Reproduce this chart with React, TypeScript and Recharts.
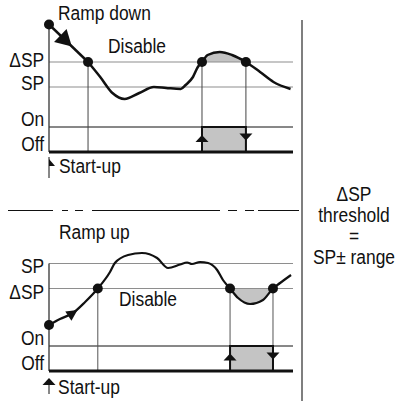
import { ComposedChart, Line, Area, XAxis, YAxis, ReferenceLine, ReferenceArea, ReferenceDot } from 'recharts';

const FONT = "'Liberation Sans', Arial, sans-serif";
const INK = '#111';
const GRID = '#8e8e8e';
const SHADE = '#c4c4c4';
const FS = 20;
const SQUEEZE = 0.87; // the original lettering is a condensed face

// levels (arbitrary process units, output: Off = 0 / On = 10)
const OFF = 0;
const ON = 10;
const topSP = 26;
const topDSP = 36;
const botSP = 43;
const botDSP = 33;

// switching instants
const topEnable = 16;
const topOnT = 62.7;
const topOffT = 80.7;
const botEnable = 20;
const botOnT = 74.2;
const botOffT = 91.8;

// top panel: ramp down then process value
const topRamp = [
  { t: 0, pv: 51 },
  { t: 16, pv: 36 },
];
const topCurve = [
  { t: 16, pv: 36 }, { t: 21, pv: 30 }, { t: 26, pv: 23.6 }, { t: 31, pv: 21.2 },
  { t: 37, pv: 23.6 }, { t: 43, pv: 26 }, { t: 48, pv: 25.6 }, { t: 54, pv: 25.2 },
  { t: 56, pv: 26.8 }, { t: 59, pv: 30 }, { t: 61, pv: 34 }, { t: 62.7, pv: 36 },
  { t: 65, pv: 38.8 }, { t: 70, pv: 40 }, { t: 75, pv: 38.8 }, { t: 80.7, pv: 36 },
  { t: 86.5, pv: 32 }, { t: 92, pv: 28 }, { t: 99, pv: 25.2 },
];
const topOutput = [
  { t: 0, out: 0 }, { t: 62.7, out: 0 }, { t: 62.7, out: 10 },
  { t: 80.7, out: 10 }, { t: 80.7, out: 0 }, { t: 100, out: 0 },
];

// bottom panel: ramp up then process value
const botCurve = [
  { t: 0, pv: 18.4 }, { t: 4.5, pv: 20.8 }, { t: 9.8, pv: 23.2 }, { t: 14.8, pv: 27.6 },
  { t: 20, pv: 33 }, { t: 25, pv: 39.6 }, { t: 27, pv: 43.2 }, { t: 32.4, pv: 46.4 },
  { t: 38.1, pv: 47.2 }, { t: 44.3, pv: 45.2 }, { t: 48.8, pv: 41.2 }, { t: 53.7, pv: 42.6 },
  { t: 56.6, pv: 43.4 }, { t: 58.6, pv: 42.8 }, { t: 61.9, pv: 43.6 }, { t: 65.2, pv: 43.2 },
  { t: 68.9, pv: 40.4 }, { t: 71.3, pv: 36.4 }, { t: 74.2, pv: 33 }, { t: 77.5, pv: 29.2 },
  { t: 82.4, pv: 26.8 }, { t: 87.7, pv: 28.4 }, { t: 91.8, pv: 33 }, { t: 94.7, pv: 35.2 },
  { t: 99.2, pv: 38.4 },
];
const botOutput = [
  { t: 0, out: 0 }, { t: 74.2, out: 0 }, { t: 74.2, out: 10 },
  { t: 91.8, out: 10 }, { t: 91.8, out: 0 }, { t: 100, out: 0 },
];

const rightNote = ['ΔSP', 'threshold', '=', 'SP± range'];

const topShade = topCurve.filter(d => d.t >= topOnT && d.t <= topOffT);
const botShade = botCurve.filter(d => d.t >= botOnT && d.t <= botOffT);

// --- little shape helpers for ReferenceDot ---
function Lettering({ x, y, anchor, children }: { x: number; y: number; anchor: 'start' | 'end' | 'middle'; children: string }) {
  return (
    <text
      transform={`translate(${x} ${y}) scale(${SQUEEZE} 1)`}
      textAnchor={anchor}
      fontSize={FS}
      fontFamily={FONT}
      fill={INK}
    >
      {children}
    </text>
  );
}

const txt = (text: string, anchor: 'start' | 'end' | 'middle' = 'start') => (p: any) => (
  <Lettering x={p.cx} y={p.cy} anchor={anchor}>{text}</Lettering>
);

const arrow = (angle: number, len: number, half: number) => (p: any) => (
  <polygon
    points={`${p.cx + len / 2},${p.cy} ${p.cx - len / 2},${p.cy - half} ${p.cx - len / 2},${p.cy + half}`}
    transform={`rotate(${angle} ${p.cx} ${p.cy})`}
    fill={INK}
  />
);

const startTop = (p: any) => (
  <g>
    <line x1={p.cx} y1={p.cy - 2} x2={p.cx} y2={p.cy + 19} stroke={INK} strokeWidth={1} />
    <polygon points={`${p.cx},${p.cy} ${p.cx},${p.cy + 7} ${p.cx + 6},${p.cy + 7}`} fill={INK} />
  </g>
);

const startBottom = (p: any) => (
  <g>
    <line x1={p.cx} y1={p.cy + 4} x2={p.cx} y2={p.cy + 16} stroke={INK} strokeWidth={1} />
    <polygon points={`${p.cx},${p.cy} ${p.cx - 6.5},${p.cy + 7} ${p.cx + 6.5},${p.cy + 7}`} fill={INK} />
  </g>
);

const dot = { r: 5, fill: INK, stroke: 'none' };

function TopPanel() {
  return (
    <ComposedChart width={300} height={200} margin={{ top: 12, right: 7, bottom: 38, left: 49 }}>
      <XAxis dataKey="t" type="number" domain={[0, 100]} allowDataOverflow hide />
      <YAxis type="number" domain={[-4, 56]} allowDataOverflow hide />
      <ReferenceArea x1={topOnT} x2={topOffT} y1={OFF} y2={ON} fill={SHADE} fillOpacity={1} stroke="none" />
      <Area data={topShade} dataKey={(d: any) => [topDSP, d.pv]} type="monotone" fill={SHADE} fillOpacity={1} stroke="none" isAnimationActive={false} />
      <ReferenceLine y={topDSP} stroke={GRID} strokeWidth={1.2} />
      <ReferenceLine y={topSP} stroke={GRID} strokeWidth={1.2} />
      <ReferenceLine y={ON} stroke={INK} strokeWidth={1} />
      <ReferenceLine segment={[{ x: 0, y: 51 }, { x: 0, y: OFF }]} stroke="#333" strokeWidth={1.3} />
      <ReferenceLine segment={[{ x: topEnable, y: topDSP }, { x: topEnable, y: OFF }]} stroke="#444" strokeWidth={1} />
      <ReferenceLine segment={[{ x: topOnT, y: topDSP }, { x: topOnT, y: OFF }]} stroke="#444" strokeWidth={1} />
      <ReferenceLine segment={[{ x: topOffT, y: topDSP }, { x: topOffT, y: OFF }]} stroke="#444" strokeWidth={1} />
      <Line data={topOutput} dataKey="out" type="linear" stroke={INK} strokeWidth={2} dot={false} isAnimationActive={false} />
      <ReferenceLine y={OFF} stroke={INK} strokeWidth={3} />
      <Line data={topRamp} dataKey="pv" type="linear" stroke={INK} strokeWidth={2.5} dot={false} isAnimationActive={false} />
      <Line data={topCurve} dataKey="pv" type="monotone" stroke={INK} strokeWidth={2.5} dot={false} isAnimationActive={false} />
      <ReferenceDot x={0} y={51} {...dot} />
      <ReferenceDot x={topEnable} y={topDSP} {...dot} />
      <ReferenceDot x={topOnT} y={topDSP} {...dot} />
      <ReferenceDot x={topOffT} y={topDSP} {...dot} />
      <ReferenceDot x={7} y={44.4} ifOverflow="visible" shape={arrow(44, 16, 9)} />
      <ReferenceDot x={topOnT} y={5.4} ifOverflow="visible" shape={arrow(-90, 7, 6.5)} />
      <ReferenceDot x={topOffT} y={6} ifOverflow="visible" shape={arrow(90, 7, 6.5)} />
      <ReferenceDot x={0} y={-2.8} ifOverflow="visible" shape={startTop} />
      <ReferenceDot x={3.7} y={52.8} ifOverflow="visible" shape={txt('Ramp down')} />
      <ReferenceDot x={24.2} y={39.6} ifOverflow="visible" shape={txt('Disable')} />
      <ReferenceDot x={-2} y={34} ifOverflow="visible" shape={txt('ΔSP', 'end')} />
      <ReferenceDot x={-2} y={24.8} ifOverflow="visible" shape={txt('SP', 'end')} />
      <ReferenceDot x={-2} y={10.4} ifOverflow="visible" shape={txt('On', 'end')} />
      <ReferenceDot x={-2} y={0.4} ifOverflow="visible" shape={txt('Off', 'end')} />
      <ReferenceDot x={4.1} y={-8.4} ifOverflow="visible" shape={txt('Start-up')} />
    </ComposedChart>
  );
}

function BottomPanel() {
  return (
    <ComposedChart width={300} height={201} margin={{ top: 31, right: 7, bottom: 20, left: 49 }}>
      <XAxis dataKey="t" type="number" domain={[0, 100]} allowDataOverflow hide />
      <YAxis type="number" domain={[-4, 56]} allowDataOverflow hide />
      <ReferenceArea x1={botOnT} x2={botOffT} y1={OFF} y2={ON} fill={SHADE} fillOpacity={1} stroke="none" />
      <Area data={botShade} dataKey={(d: any) => [d.pv, botDSP]} type="monotone" fill={SHADE} fillOpacity={1} stroke="none" isAnimationActive={false} />
      <ReferenceLine y={botSP} stroke={GRID} strokeWidth={1.2} />
      <ReferenceLine y={botDSP} stroke={GRID} strokeWidth={1.2} />
      <ReferenceLine y={ON} stroke={INK} strokeWidth={1} />
      <ReferenceLine segment={[{ x: 0, y: botSP }, { x: 0, y: OFF }]} stroke="#333" strokeWidth={1.3} />
      <ReferenceLine segment={[{ x: botEnable, y: botDSP }, { x: botEnable, y: OFF }]} stroke="#555" strokeWidth={1} />
      <ReferenceLine segment={[{ x: botOnT, y: botDSP }, { x: botOnT, y: OFF }]} stroke="#555" strokeWidth={1} />
      <ReferenceLine segment={[{ x: botOffT, y: botDSP }, { x: botOffT, y: OFF }]} stroke="#555" strokeWidth={1} />
      <Line data={botOutput} dataKey="out" type="linear" stroke={INK} strokeWidth={2} dot={false} isAnimationActive={false} />
      <ReferenceLine y={OFF} stroke={INK} strokeWidth={3} />
      <Line data={botCurve} dataKey="pv" type="monotone" stroke={INK} strokeWidth={2.2} dot={false} isAnimationActive={false} />
      <ReferenceDot x={0} y={18.4} {...dot} />
      <ReferenceDot x={botEnable} y={botDSP} {...dot} />
      <ReferenceDot x={botOnT} y={botDSP} {...dot} />
      <ReferenceDot x={botOffT} y={botDSP} {...dot} />
      <ReferenceDot x={9.8} y={23.2} ifOverflow="visible" shape={arrow(-34, 11, 5.5)} />
      <ReferenceDot x={botOnT} y={5.6} ifOverflow="visible" shape={arrow(-90, 7, 6.5)} />
      <ReferenceDot x={botOffT} y={6} ifOverflow="visible" shape={arrow(90, 7, 6.5)} />
      <ReferenceDot x={0} y={-2.8} ifOverflow="visible" shape={startBottom} />
      <ReferenceDot x={4.1} y={52.8} ifOverflow="visible" shape={txt('Ramp up')} />
      <ReferenceDot x={28.7} y={26} ifOverflow="visible" shape={txt('Disable')} />
      <ReferenceDot x={-2} y={39.2} ifOverflow="visible" shape={txt('SP', 'end')} />
      <ReferenceDot x={-2} y={28.8} ifOverflow="visible" shape={txt('ΔSP', 'end')} />
      <ReferenceDot x={-2} y={10.4} ifOverflow="visible" shape={txt('On', 'end')} />
      <ReferenceDot x={-2} y={0.4} ifOverflow="visible" shape={txt('Off', 'end')} />
      <ReferenceDot x={3.7} y={-9.2} ifOverflow="visible" shape={txt('Start-up')} />
    </ComposedChart>
  );
}

export default function App() {
  return (
    <div style={{ position: 'absolute', left: 0, top: 0, width: 401, height: 401, background: '#fff', overflow: 'hidden' }}>
      <svg width={401} height={401} style={{ position: 'absolute', left: 0, top: 0 }}>
        <line x1={8} y1={210.5} x2={299} y2={210.5} stroke={INK} strokeWidth={1} strokeDasharray="45 9 6 7 8 9 128 8 9 8 9 4 41" />
        <line x1={302} y1={20} x2={302} y2={401} stroke="#555" strokeWidth={1.5} />
        {rightNote.map((s, i) => (
          <Lettering key={s} x={354} y={201 + i * 21} anchor="middle">{s}</Lettering>
        ))}
      </svg>
      <div style={{ position: 'absolute', left: 0, top: 0 }}>
        <TopPanel />
      </div>
      <div style={{ position: 'absolute', left: 0, top: 200 }}>
        <BottomPanel />
      </div>
    </div>
  );
}
